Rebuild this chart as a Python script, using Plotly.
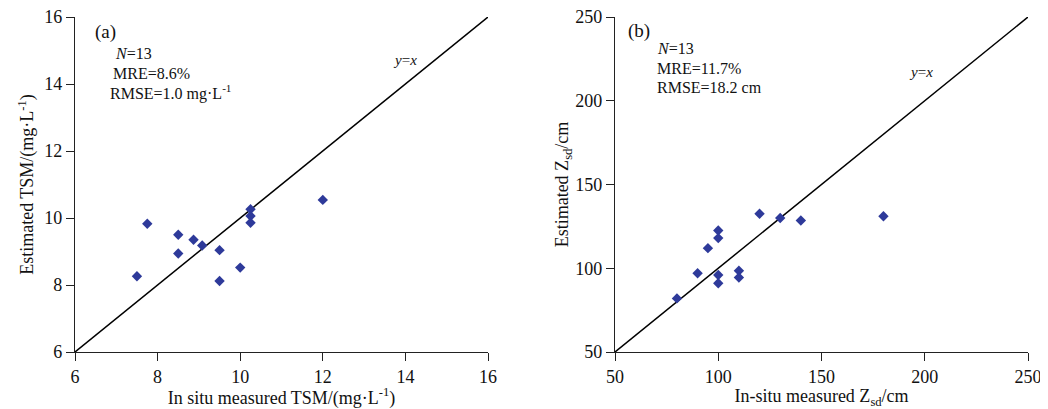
import plotly.graph_objects as go

# Panel (a): TSM (mg/L)
tsm_measured = [7.5, 7.75, 8.5, 8.5, 8.87, 9.08, 9.5, 9.5, 10.0, 10.25, 10.25, 10.25, 12.0]
tsm_estimated = [8.26, 9.83, 9.5, 8.94, 9.35, 9.18, 9.04, 8.12, 8.52, 10.26, 10.06, 9.86, 10.54]
tsm_ticks = [6, 8, 10, 12, 14, 16]

# Panel (b): Zsd (cm)
zsd_measured = [80, 90, 95, 100, 100, 100, 100, 110, 110, 120, 130, 140, 180]
zsd_estimated = [82, 97, 112, 122.5, 118, 96, 91, 98.5, 94.5, 132.5, 130, 128.5, 131]
zsd_ticks = [50, 100, 150, 200, 250]

FONT = "Liberation Serif"
MARKER = "#2E3A9A"
OFF = 8  # page body margin of the browser
W, H = 1048 - OFF, 409 - OFF

fig = go.Figure()

fig.add_trace(go.Scatter(x=[tsm_ticks[0], tsm_ticks[-1]], y=[tsm_ticks[0], tsm_ticks[-1]],
                         mode="lines", line=dict(color="black", width=1.5),
                         xaxis="x", yaxis="y", showlegend=False, hoverinfo="skip"))
fig.add_trace(go.Scatter(x=tsm_measured, y=tsm_estimated, mode="markers",
                         marker=dict(symbol="diamond", size=8, color=MARKER),
                         xaxis="x", yaxis="y", showlegend=False))
fig.add_trace(go.Scatter(x=[zsd_ticks[0], zsd_ticks[-1]], y=[zsd_ticks[0], zsd_ticks[-1]],
                         mode="lines", line=dict(color="black", width=1.5),
                         xaxis="x2", yaxis="y2", showlegend=False, hoverinfo="skip"))
fig.add_trace(go.Scatter(x=zsd_measured, y=zsd_estimated, mode="markers",
                         marker=dict(symbol="diamond", size=8, color=MARKER),
                         xaxis="x2", yaxis="y2", showlegend=False))


def px(x):
    return (x - OFF) / W


def py(y):
    return 1 - (y - OFF) / H


ydom = [py(352), py(17)]
common = dict(showgrid=False, zeroline=False, showline=True, linecolor="#222",
              linewidth=1.2, ticks="outside", ticklen=8, tickcolor="#222",
              tickfont=dict(family=FONT, size=18, color="#111"), mirror=False,
              automargin=False, ticklabeloverflow="allow")

fig.update_layout(
    width=W, height=H,
    margin=dict(l=0, r=0, t=0, b=0, autoexpand=False),
    paper_bgcolor="white", plot_bgcolor="white",
    font=dict(family=FONT, color="#111"),
    xaxis=dict(domain=[px(75), px(488)], range=[6, 16], tickvals=tsm_ticks, anchor="y",
               title=dict(text="In situ measured TSM/(mg·L<sup>-1</sup>)",
                          font=dict(family=FONT, size=18), standoff=4), **common),
    yaxis=dict(domain=ydom, range=[6, 16], tickvals=tsm_ticks, anchor="x",
               title=dict(text="Estimated TSM/(mg·L<sup>-1</sup>)",
                          font=dict(family=FONT, size=18), standoff=5), **common),
    xaxis2=dict(domain=[px(615), px(1028)], range=[50, 250], tickvals=zsd_ticks, anchor="y2",
                title=dict(text="In-situ measured Z<sub>sd</sub>/cm",
                           font=dict(family=FONT, size=18), standoff=4), **common),
    yaxis2=dict(domain=ydom, range=[50, 250], tickvals=zsd_ticks, anchor="x2",
                title=dict(text="Estimated Z<sub>sd</sub>/cm",
                           font=dict(family=FONT, size=18), standoff=1), **common),
)

ann = []
ann.append(dict(text="(a)", x=px(105), y=py(32), xref="paper", yref="paper",
                showarrow=False, font=dict(family=FONT, size=19), xanchor="center", yanchor="middle"))
ann.append(dict(text="<i>N</i>=13", x=px(113), y=py(53), xref="paper", yref="paper",
                showarrow=False, font=dict(family=FONT, size=16), xanchor="left", yanchor="middle"))
ann.append(dict(text="MRE=8.6%", x=px(111), y=py(73), xref="paper", yref="paper",
                showarrow=False, font=dict(family=FONT, size=16), xanchor="left", yanchor="middle"))
ann.append(dict(text="RMSE=1.0 mg·L<sup>-1</sup>", x=px(108), y=py(92), xref="paper", yref="paper",
                showarrow=False, font=dict(family=FONT, size=16), xanchor="left", yanchor="middle"))
ann.append(dict(text="<i>y</i>=<i>x</i>", x=14.0, y=14.72, xref="x", yref="y",
                showarrow=False, font=dict(family=FONT, size=15), xanchor="center", yanchor="middle"))

ann.append(dict(text="(b)", x=px(639), y=py(31), xref="paper", yref="paper",
                showarrow=False, font=dict(family=FONT, size=19), xanchor="center", yanchor="middle"))
ann.append(dict(text="<i>N</i>=13", x=px(655), y=py(48), xref="paper", yref="paper",
                showarrow=False, font=dict(family=FONT, size=16), xanchor="left", yanchor="middle"))
ann.append(dict(text="MRE=11.7%", x=px(655), y=py(68), xref="paper", yref="paper",
                showarrow=False, font=dict(family=FONT, size=16), xanchor="left", yanchor="middle"))
ann.append(dict(text="RMSE=18.2 cm", x=px(655), y=py(87), xref="paper", yref="paper",
                showarrow=False, font=dict(family=FONT, size=16), xanchor="left", yanchor="middle"))
ann.append(dict(text="<i>y</i>=<i>x</i>", x=198, y=217, xref="x2", yref="y2",
                showarrow=False, font=dict(family=FONT, size=15), xanchor="center", yanchor="middle"))

fig.update_layout(annotations=ann)

fig.write_html("out.html")
